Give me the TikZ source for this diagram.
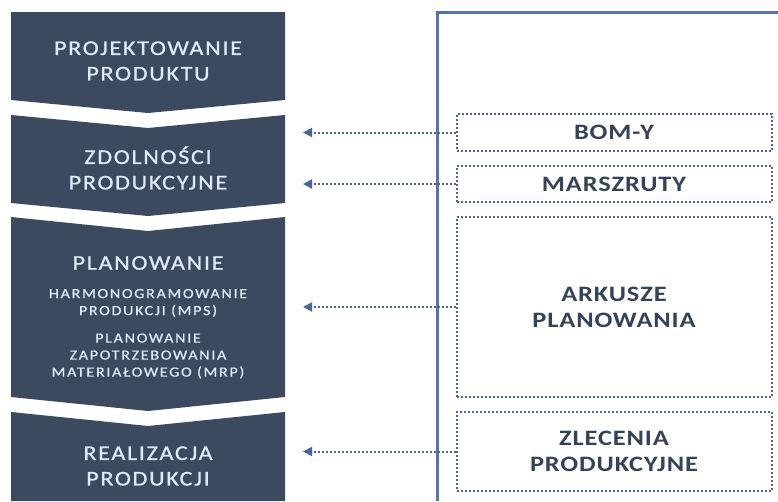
\documentclass[tikz,border=0pt]{standalone}
\usepackage{fontspec}
\setmainfont{Carlito}
\newfontfamily\chevfont[LetterSpace=8,FakeStretch=1.15,FakeBold=0.8]{Carlito}
\newfontfamily\subfont[LetterSpace=12,FakeStretch=1.15,FakeBold=0.7]{Carlito}
\newfontfamily\boxfont[LetterSpace=4,FakeStretch=1.2]{Carlito}
\usetikzlibrary{arrows.meta}
\definecolor{slate}{HTML}{3B4A5E}
\definecolor{boxtext}{HTML}{34435A}
\definecolor{pale}{HTML}{E0EBFA}
\definecolor{lineblue}{HTML}{5574AC}
\definecolor{dotblue}{HTML}{46659C}
\tikzset{
  chev/.style={fill=slate},
  chevtitle/.style={text=pale, align=center, font=\chevfont\fontsize{21}{25.5}\selectfont, inner sep=0},
  chevsub/.style={text=pale, align=center, font=\subfont\fontsize{14}{17}\selectfont, inner sep=0},
  dbox/.style={draw=dotblue, line width=2pt, dash pattern=on 2pt off 2pt, minimum width=315pt, inner sep=0,
    text=boxtext, align=center, font=\boxfont\bfseries\fontsize{22}{26}\selectfont},
  darrow/.style={draw=dotblue, line width=2pt, dash pattern=on 2pt off 2pt, -{Triangle[length=9pt,width=9pt]}},
  frame/.style={draw=lineblue, line width=3pt}
}
\begin{document}
\begin{tikzpicture}[x=1pt,y=-1pt]
\useasboundingbox (0,0) rectangle (778,501);
% chevrons
\fill[chev] (11,12) -- (285,12) -- (285,100) -- (148,113) -- (11,100) -- cycle;
\fill[chev] (11,115) -- (148,128) -- (285,115) -- (285,203) -- (148,216) -- (11,203) -- cycle;
\fill[chev] (11,217) -- (148,231) -- (285,217) -- (285,397) -- (148,411) -- (11,397) -- cycle;
\fill[chev] (11,412) -- (148,426) -- (285,412) -- (285,501) -- (11,501) -- cycle;
% chevron texts
\node[chevtitle] (t1) at (148,61) {PROJEKTOWANIE\\PRODUKTU};
\node[chevtitle] (t2) at (148,168) {ZDOLNOŚCI\\PRODUKCYJNE};
\node[chevtitle] (t3) at (148,263) {PLANOWANIE};
\node[chevsub] (s1) at (148,303) {HARMONOGRAMOWANIE\\PRODUKCJI (MPS)};
\node[chevsub] (s2) at (148,356) {PLANOWANIE\\ZAPOTRZEBOWANIA\\MATERIAŁOWEGO (MRP)};
\node[chevtitle] (t4) at (148,466) {REALIZACJA\\PRODUKCJI};
% frame
\draw[frame] (437,501) -- (437,12) -- (778,12);
% boxes
\node[dbox, minimum height=37pt] (bom) at (614,132.5) {BOM-Y};
\node[dbox, minimum height=36pt] (mar) at (614,184) {MARSZRUTY};
\node[dbox, minimum height=180pt] (ark) at (614,307) {ARKUSZE\\PLANOWANIA};
\node[dbox, minimum height=79pt] (zle) at (614,451.5) {ZLECENIA\\PRODUKCYJNE};
% arrow ends
\coordinate (a1) at (303,132.5);
\coordinate (a2) at (303,184);
\coordinate (a3) at (303,307);
\coordinate (a4) at (303,451.5);
\draw[darrow] (bom.west) -- (a1);
\draw[darrow] (mar.west) -- (a2);
\draw[darrow] (ark.west) -- (a3);
\draw[darrow] (zle.west) -- (a4);
\end{tikzpicture}
\end{document}
